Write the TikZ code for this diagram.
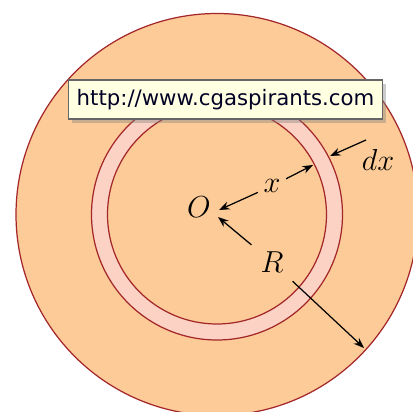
\documentclass[tikz,border=0pt]{standalone}
\usepackage{fontspec}
\newfontfamily\tipfont{DejaVu Sans}
\usepackage{tikz,xcolor}
\usetikzlibrary{arrows.meta,shadows}

\definecolor{disc}{HTML}{FCCB97}
\definecolor{ringc}{HTML}{FBD2C3}
\definecolor{rim}{HTML}{A3262A}
\definecolor{tipbg}{HTML}{FFFFE1}

\begin{document}
\begin{tikzpicture}[x=0.02cm,y=-0.02cm,
  rimline/.style={draw=rim, line width=0.7pt},
  dimarrow/.style={-{Stealth[length=6pt,width=4.5pt]}, line width=0.7pt},
  lbl/.style={font=\fontsize{17}{17}\selectfont, inner sep=3pt}]
\useasboundingbox (0,0) rectangle (413,412);
\clip (0,0) rectangle (413,412);

\coordinate (O) at (217,214.5);

% disc and the thin ring
\filldraw[fill=disc, rimline] (O) circle (201);
\fill[ringc, even odd rule] (O) circle (125.5) (O) circle (109.5);
\draw[rimline] (O) circle (125.5);
\draw[rimline] (O) circle (109.5);

% labels
\node[lbl] (Olab) at (199,207) {$O$};
\node[lbl] (xlab) at (272,186) {$x$};
\node[lbl] (dxlab) at (378,160) {$dx$};
\node[lbl, inner sep=5pt] (Rlab) at (272,262) {$R$};

\coordinate (Ox) at (219,210);
\coordinate (OR) at (218,217);
\coordinate (xend) at (313,165);
\coordinate (dxtail) at (366,140);
\coordinate (dxend) at (330,156);
\coordinate (Rend) at (364,348);

\draw[dimarrow] (xlab) -- (Ox);
\draw[dimarrow] (xlab) -- (xend);
\draw[dimarrow] (dxtail) -- (dxend);
\draw[dimarrow] (Rlab) -- (OR);
\draw[dimarrow] (Rlab) -- (Rend);

% tooltip
\node[draw=gray!80!black, fill=tipbg, line width=0.6pt,
      minimum width=6.3cm, minimum height=0.78cm, inner sep=0pt,
      drop shadow={shadow xshift=2pt, shadow yshift=-2.5pt, opacity=0.4},
      font=\tipfont\fontsize{12.1}{14}\selectfont, text=black!85!blue]
  (tip) at (225.5,99.5) {http://www.cgaspirants.com};
\end{tikzpicture}
\end{document}
